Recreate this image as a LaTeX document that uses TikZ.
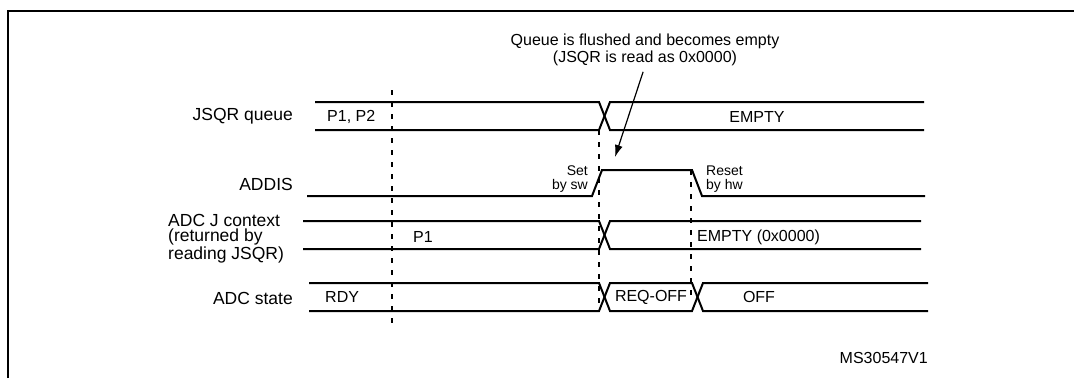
\documentclass[tikz,border=0pt]{standalone}
\usepackage{fontspec}
\setmainfont{Liberation Sans}
\usetikzlibrary{arrows.meta}

\tikzset{
  sig/.style={line width=2pt},
  guide/.style={line width=1.8pt, dash pattern=on 5pt off 7pt},
  lbl/.style={font=\fontsize{17.5}{15.5}\selectfont, inner sep=0pt},
  val/.style={font=\fontsize{16}{16}\selectfont, inner sep=0pt},
  small/.style={font=\fontsize{14}{13.5}\selectfont, inner sep=0pt},
  flag/.style={line width=1.2pt, -{Latex[length=12pt,width=8pt]}}
}

\begin{document}
\begin{tikzpicture}[x=1pt,y=-1pt]
    \useasboundingbox (0,0) rectangle (1074,378);
    % Frame
        \draw[line width=2.8pt] (8,378) -- (8,11) -- (1074,11);
    % Signal names
        \node[lbl, anchor=east] (jsqr) at (293,116) {JSQR queue};
        \node[lbl, anchor=east] (addis) at (293,184) {ADDIS};
        \node[lbl, anchor=north west, align=left] (ctx) at (168,214) {ADC J context\\(returned by\\reading JSQR)};
        \node[lbl, anchor=east] (state) at (293,298) {ADC state};
    % Waveforms
        % JSQR queue
            \draw[sig] (315,102) -- (599,102) -- (610,130) -- (924,130);
            \draw[sig] (315,130) -- (599,130) -- (610,102) -- (924,102);
            \node[val, anchor=west] (pp) at (327,117) {P1, P2};
            \node[val] (empty) at (757,117) {EMPTY};
        % ADDIS
            \draw[sig] (307,196) -- (592,196) -- (602,170) -- (692,170) -- (702,196) -- (925,196);
            \node[small, anchor=east, align=right] (set) at (588,179) {Set\\by sw};
            \node[small, anchor=west, align=left] (reset) at (706,179) {Reset\\by hw};
        % ADC J context
            \draw[sig] (303,221) -- (599,221) -- (610,249) -- (921,249);
            \draw[sig] (303,249) -- (599,249) -- (610,221) -- (921,221);
            \node[val, anchor=west] (pone) at (413,237) {P1};
            \node[val, anchor=west] (zero) at (697,237) {EMPTY (0x0000)};
        % ADC state
            \draw[sig] (309,283) -- (599,283) -- (610,311) -- (692,311) -- (703,283) -- (928,283);
            \draw[sig] (309,311) -- (599,311) -- (610,283) -- (692,283) -- (703,311) -- (928,311);
            \node[val, anchor=west] (rdy) at (325,297) {RDY};
            \node[val] (reqoff) at (651,297) {REQ-OFF};
            \node[val] (off) at (759,297) {OFF};
    % Event markers
        \draw[guide] (392,90) -- (392,326);
        \draw[guide] (599,130) -- (599,303);
        \draw[guide] (691,170) -- (691,298);
    % Flush note
        \node[font=\fontsize{16}{17}\selectfont, align=center, inner sep=0pt] (note) at (645,50) {Queue is flushed and becomes empty\\(JSQR is read as 0x0000)};
        \coordinate (tip) at (615,157);
        \draw[flag, shorten <=6pt] (note.south) -- (tip);
    \node[val, anchor=east] (ref) at (928,358) {MS30547V1};
\end{tikzpicture}
\end{document}
